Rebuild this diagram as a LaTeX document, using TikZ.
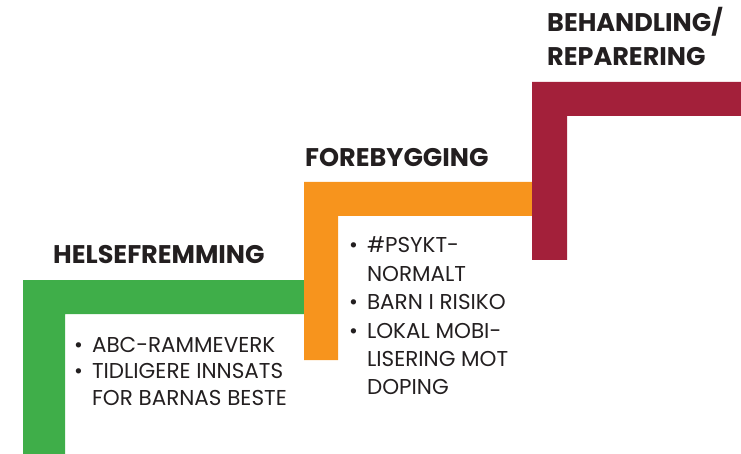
\documentclass[tikz,border=0pt]{standalone}
\usepackage{fontspec}
\usepackage[]{xcolor}
\setmainfont{Poppins}
\definecolor{stepgreen}{HTML}{3FAE49}
\definecolor{steporange}{HTML}{F7941D}
\definecolor{stepred}{HTML}{A3203A}
\definecolor{steptext}{HTML}{231F20}
\begin{document}
\begin{tikzpicture}[
            x=1pt, y=-1pt,
            heading/.style={anchor=base west, inner sep=0pt, text=steptext, font=\bfseries\fontsize{25.5}{30}\selectfont, align=left},
            itemlist/.style={anchor=base west, inner sep=0pt, text=steptext, align=left}
        ]
            \useasboundingbox (0,0) rectangle (741,454);

            % the three steps
            \fill[stepgreen] (23,454) -- (23,280) -- (305,280) -- (305,314) -- (65,314) -- (65,454) -- cycle;
            \fill[steporange] (304,360) -- (304,182) -- (532,182) -- (532,216) -- (338,216) -- (338,360) -- cycle;
            \fill[stepred] (532,260) -- (532,82) -- (741,82) -- (741,116) -- (567,116) -- (567,260) -- cycle;

            \node[heading] (H1) at (53,263) {HELSEFREMMING};
            \node[heading] (H2) at (305,167) {FOREBYGGING};
            \node[heading] (H3) at (547,66) {BEHANDLING/\\[4pt]REPARERING};

            \node[itemlist, font=\fontsize{21.5}{26.5}\selectfont] (L1) at (74,352) {\begin{tabular}[t]{@{}l@{\hspace{9pt}}l@{}}
                \textbullet & ABC-RAMMEVERK\\
                \textbullet & TIDLIGERE INNSATS\\
                            & FOR BARNAS BESTE
            \end{tabular}};
            \node[itemlist, font=\fontsize{21.5}{28.4}\selectfont] (L2) at (349,253) {\begin{tabular}[t]{@{}l@{\hspace{9pt}}l@{}}
                \textbullet & \#PSYKT-\\
                            & NORMALT\\
                \textbullet & BARN I RISIKO\\
                \textbullet & LOKAL MOBI-\\
                            & LISERING MOT\\
                            & DOPING
            \end{tabular}};
        \end{tikzpicture}
\end{document}
